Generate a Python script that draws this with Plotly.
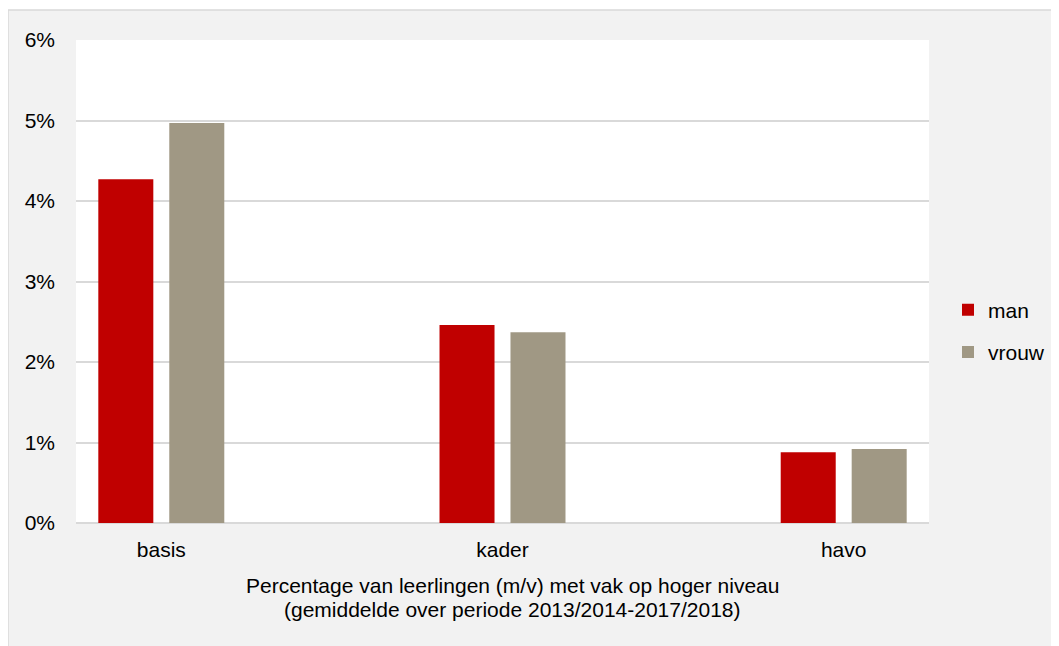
import plotly.graph_objects as go

categories = ["basis", "kader", "havo"]
man = [0.0427, 0.0246, 0.0088]
vrouw = [0.0497, 0.0237, 0.0092]
series_names = ["man", "vrouw"]
colors = ["#c00000", "#a09884"]
title_lines = ["Percentage van leerlingen (m/v) met vak op hoger niveau",
               "(gemiddelde over periode 2013/2014-2017/2018)"]

FONT = "Liberation Sans, Arial, sans-serif"
FS = 21

fig = go.Figure()
for i, (name, vals) in enumerate(zip(series_names, [man, vrouw])):
    fig.add_trace(go.Bar(
        x=categories, y=vals, name=name, legendgroup=name,
        marker=dict(color=colors[i], line=dict(width=0)),
    ))

# page body has an 8px margin: compensate by shifting everything up/left
OFF = 8
W, H = 1059, 646
L, T = 76 - OFF, 40 - OFF
R = W - (929 - OFF)
B = H - (523 - OFF)
pw, ph = W - L - R, H - T - B

def px2x(px):
    return (px - OFF - L) / pw

def px2y(py):
    return (H - B - (py - OFF)) / ph

fig.update_layout(
    width=W, height=H,
    margin=dict(l=L, r=R, t=T, b=B, pad=0),
    paper_bgcolor="white", plot_bgcolor="white",
    barmode="group", bargap=0.584, bargroupgap=0.225,
    font=dict(family=FONT, size=FS, color="#000000"),
    showlegend=True,
    legend=dict(x=px2x(948), y=px2y(331), xanchor="left", yanchor="middle",
                bgcolor="rgba(0,0,0,0)", tracegroupgap=12,
                font=dict(size=FS, family=FONT)),
    xaxis=dict(range=[-0.25, 2.25], showgrid=False, zeroline=False,
               showline=False, ticks="", tickfont=dict(size=FS),
               ticklabelstandoff=12),
    yaxis=dict(range=[0, 0.06], dtick=0.01, tickformat=".0%",
               showgrid=True, gridcolor="#d9d9d9", gridwidth=1.5,
               zeroline=True, zerolinecolor="#d9d9d9", zerolinewidth=1.5,
               showline=False, ticks="", tickfont=dict(size=FS),
               ticklabelstandoff=20),
    shapes=[
        dict(type="rect", xref="paper", yref="paper", layer="below",
             x0=px2x(8), x1=px2x(1058), y0=px2y(670), y1=px2y(10),
             fillcolor="#f2f2f2", line=dict(color="#d9d9d9", width=1.5)),
        dict(type="rect", xref="paper", yref="paper", layer="below",
             x0=0, x1=1, y0=0, y1=1, fillcolor="white", line=dict(width=0)),
    ],
    annotations=[
        dict(text=title_lines[0], xref="paper", yref="paper",
             x=px2x(512), y=px2y(585), xanchor="center", yanchor="middle",
             showarrow=False, font=dict(size=FS, family=FONT)),
        dict(text=title_lines[1], xref="paper", yref="paper",
             x=px2x(512), y=px2y(609), xanchor="center", yanchor="middle",
             showarrow=False, font=dict(size=FS, family=FONT)),
    ],
)

fig.write_html("out.html")
